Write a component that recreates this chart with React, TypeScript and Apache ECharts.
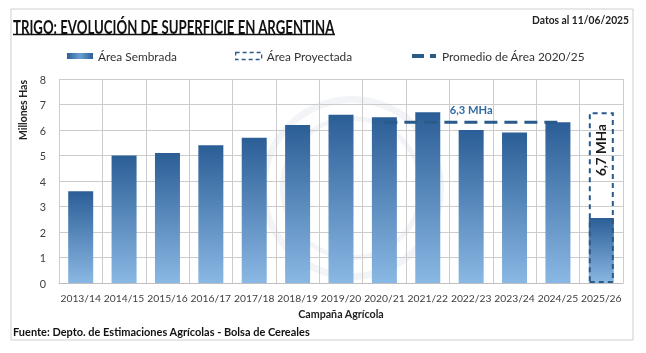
import React, { useEffect, useRef } from "react";
import * as echarts from "echarts";

const categories = ["2013/14","2014/15","2015/16","2016/17","2017/18","2018/19","2019/20","2020/21","2021/22","2022/23","2023/24","2024/25","2025/26"];
const sownArea = [3.6, 5.0, 5.1, 5.4, 5.7, 6.2, 6.6, 6.5, 6.7, 6.0, 5.9, 6.3, 2.55];
const projectedArea = [null, null, null, null, null, null, null, null, null, null, null, null, 6.7];
const averageArea = [null, null, null, null, null, null, null, 6.3, 6.3, 6.3, 6.3, 6.3, null];
const yTicks = [0, 8, 1];
const averageLabel = "6,3 MHa";
const projectedLabel = "6,7 MHa";

const FAM = "Lato, 'Open Sans', 'DejaVu Sans', sans-serif";

function measure(text: string, weight: string, size: number): number {
  const c = document.createElement("canvas").getContext("2d")!;
  c.font = `${weight} ${size}px ${FAM}`;
  return c.measureText(text).width;
}
function sizeFor(text: string, weight: string, target: number): number {
  return (20 * target) / measure(text, weight, 20);
}
function scaleFor(text: string, weight: string, size: number, target: number): number {
  return target / measure(text, weight, size);
}

export default function App() {
  const ref = useRef<HTMLDivElement>(null);
  useEffect(() => {
    document.body.style.margin = "0";
    const chart = echarts.init(ref.current!, null, { renderer: "svg" });
    const grad = new echarts.graphic.LinearGradient(0, 0, 0, 1, [
      { offset: 0, color: "#2b5e96" },
      { offset: 1, color: "#8ab8e4" },
    ]);
    const gradH = new echarts.graphic.LinearGradient(0, 0, 1, 0, [
      { offset: 0, color: "#2b5e96" },
      { offset: 0.5, color: "#6a9fd3" },
      { offset: 1, color: "#2b5e96" },
    ]);
    const axisFs = sizeFor("2013/14", "normal", 40.5);
    const legFs = sizeFor("Área Sembrada", "normal", 79);
    const nameFs = sizeFor("Campaña Agrícola", "bold", 86);
    const avgFs = sizeFor(averageLabel, "bold", 43);
    const projFs = sizeFor(projectedLabel, "bold", 52);
    const titleText = "TRIGO: EVOLUCIÓN DE SUPERFICIE EN ARGENTINA";
    const dateText = "Datos al 11/06/2025";
    const srcText = "Fuente: Depto. de Estimaciones Agrícolas - Bolsa de Cereales";
    const yName = "Millones Has";
    const legendCommon = {
      top: 50,
      padding: 0,
      itemWidth: 26,
      itemHeight: 6,
      itemGap: 4,
      textStyle: { fontFamily: FAM, fontSize: legFs, color: "#333" },
    };
    chart.setOption({
      animation: false,
      textStyle: { fontFamily: FAM },
      grid: { left: 59, right: 23, top: 79, bottom: 70, containLabel: false },
      legend: [
        { ...legendCommon, left: 67, data: [{ name: "Área Sembrada", icon: "rect", itemStyle: { color: gradH } }] },
        {
          ...legendCommon,
          left: 235,
          itemHeight: 7,
          data: [{ name: "Área Proyectada", icon: "rect", itemStyle: { color: "rgba(0,0,0,0)", borderColor: "#2a5a8a", borderWidth: 1.3, borderType: [4, 3] } }],
        },
        {
          ...legendCommon,
          left: 412,
          itemHeight: 4,
          data: [{ name: "Promedio de Área 2020/25", icon: "path://M0,0H12V4H0Z M18,0H24V4H18Z", itemStyle: { color: "#2a5a8a" } }],
        },
      ],
      xAxis: {
        type: "category",
        data: categories,
        boundaryGap: true,
        axisLine: { lineStyle: { color: "#bfbfbf" } },
        axisTick: { show: false },
        splitLine: { show: true, lineStyle: { color: "#cccccc" } },
        axisLabel: { color: "#404040", fontSize: axisFs, fontFamily: FAM, margin: 10, interval: 0 },
        name: "Campaña Agrícola",
        nameLocation: "middle",
        nameGap: 25,
        nameTextStyle: { fontWeight: "bold", fontSize: nameFs, color: "#222", fontFamily: FAM },
      },
      yAxis: {
        type: "value",
        min: yTicks[0],
        max: yTicks[1],
        interval: yTicks[2],
        axisLine: { show: false },
        axisTick: { show: false },
        splitLine: { lineStyle: { color: "#cccccc" } },
        axisLabel: { color: "#404040", fontSize: axisFs + 0.5, fontFamily: FAM, margin: 13 },
      },
      series: [
        {
          name: "Área Sembrada",
          type: "bar",
          data: sownArea,
          barWidth: 25,
          itemStyle: { color: grad },
          z: 3,
        },
        {
          name: "Área Proyectada",
          type: "bar",
          data: projectedArea,
          barWidth: 25,
          barGap: "-100%",
          itemStyle: { color: "rgba(0,0,0,0)", borderColor: "#2a5a8a", borderWidth: 2, borderType: [5, 4] },
          label: {
            show: true,
            position: ["50%", 38],
            rotate: 90,
            align: "center",
            verticalAlign: "middle",
            formatter: projectedLabel,
            fontWeight: "bold",
            fontSize: projFs,
            color: "#1a1a1a",
            fontFamily: FAM,
          },
          z: 4,
        },
        {
          name: "Promedio de Área 2020/25",
          type: "line",
          data: averageArea.map((v, i) =>
            i === 9 ? { value: v, label: { show: true } } : v
          ),
          symbol: "circle",
          symbolSize: 0,
          showSymbol: true,
          lineStyle: { color: "#2a5a8a", width: 3, type: [13, 7] },
          itemStyle: { color: "#2a5a8a" },
          label: {
            show: false,
            position: "top",
            distance: 7,
            fontWeight: "bold",
            fontSize: avgFs,
            color: "#2f6aa3",
            fontFamily: FAM,
            formatter: averageLabel,
          },
          z: 5,
        },
      ],
      graphic: [
        { type: "rect", z: -10, shape: { x: 11, y: 9, width: 622, height: 331 }, style: { fill: "#fff", stroke: "#cfcfcf", lineWidth: 1 } },
        { type: "ring", z: -5, shape: { cx: 352, cy: 188, r: 92, r0: 85 }, style: { fill: "#f3f4f7" } },
        { type: "ring", z: -5, shape: { cx: 352, cy: 188, r: 72, r0: 67 }, style: { fill: "#f3f4f7" } },
        {
          type: "text", x: 13, y: 26.5, scaleX: scaleFor(titleText, "bold", 18, 322),
          style: { text: titleText, fontFamily: FAM, fontWeight: "bold", fontSize: 18, fill: "#111", verticalAlign: "middle" },
        },
        { type: "line", shape: { x1: 13, y1: 34.5, x2: 335, y2: 34.5 }, style: { stroke: "#111", lineWidth: 1.3 } },
        {
          type: "text", x: 629, y: 19, scaleX: scaleFor(dateText, "bold", 11.5, 97),
          style: { text: dateText, fontFamily: FAM, fontWeight: "bold", fontSize: 11.5, fill: "#222", align: "right", verticalAlign: "middle" },
        },
        {
          type: "text", x: 13, y: 331, scaleX: scaleFor(srcText, "bold", 12, 297),
          style: { text: srcText, fontFamily: FAM, fontWeight: "bold", fontSize: 12, fill: "#111", verticalAlign: "middle" },
        },
        {
          type: "text", x: 22, y: 110, rotation: Math.PI / 2, scaleX: scaleFor(yName, "bold", 11.5, 60),
          style: { text: yName, fontFamily: FAM, fontWeight: "bold", fontSize: 11.5, fill: "#222", align: "center", verticalAlign: "middle" },
        },
      ],
    });
    return () => chart.dispose();
  }, []);
  return <div ref={ref} style={{ position: "fixed", left: 0, top: 0, width: 646, height: 353 }} />;
}
